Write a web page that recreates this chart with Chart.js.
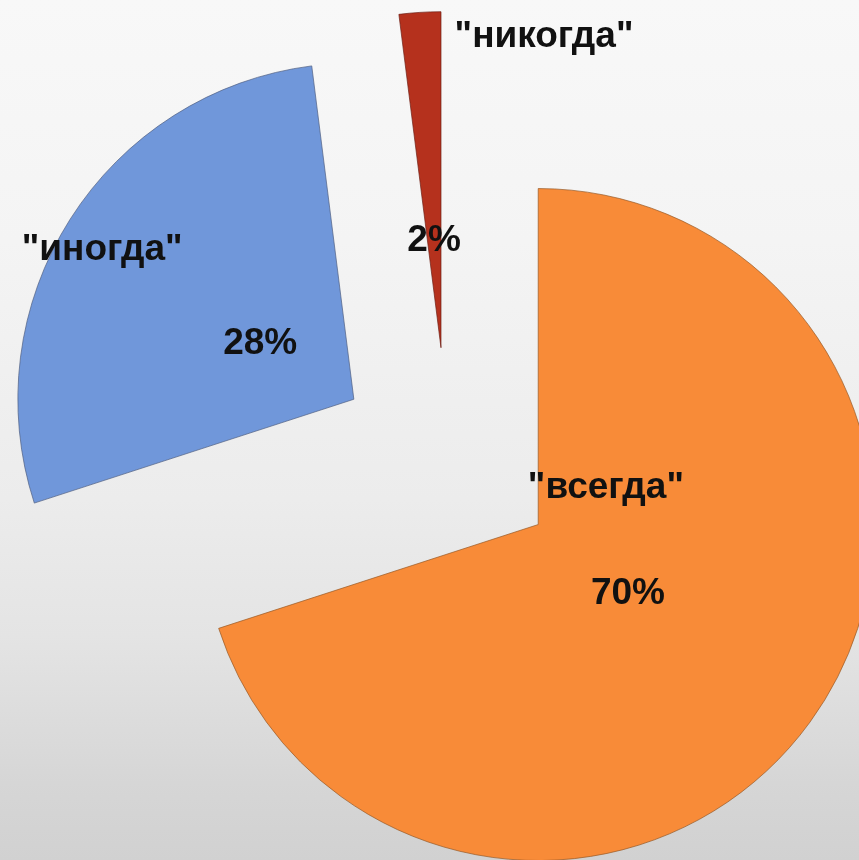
<!DOCTYPE html>
<html>
<head>
<meta charset="utf-8">
<script src="https://cdn.jsdelivr.net/npm/chart.js@4.4.1/dist/chart.umd.min.js"></script>
<style>
  html, body { margin: 0; padding: 0; background: #ffffff; }
  #wrap {
    position: relative; width: 859px; height: 860px;
    background: linear-gradient(to bottom, #f8f8f8 0%, #f4f4f4 28%, #ececec 58%, #e4e4e4 74%, #d6d6d6 91%, #d1d1d1 100%);
  }
</style>
</head>
<body>
<div id="wrap"><canvas id="c"></canvas></div>
<script>
// ---- data ----
const categories = ['"всегда"', '"иногда"', '"никогда"'];
const percentages = [70, 28, 2];
const percentLabels = ['70%', '28%', '2%'];

// ---- styles ----
const sliceColors = ['#F88B38', '#7097DA', '#B5311D'];
const sliceBorders = ['rgba(150,90,40,0.7)', 'rgba(80,95,130,0.7)', 'rgba(110,30,20,0.7)'];
const categoryLabelOffsets = [[-22, -106], [-158, -94], [110, -204]];
const LABEL_DY = 4;
const EXPLODE = 111.5;
const RADIUS = 336;
const LABEL_FONT = 'bold 37px "Liberation Sans", Arial, sans-serif';

const explodePlugin = {
  id: 'explode',
  afterUpdate(chart) {
    const meta = chart.getDatasetMeta(0);
    meta.data.forEach(el => {
      const mid = (el.startAngle + el.endAngle) / 2;
      el.x += Math.cos(mid) * EXPLODE;
      el.y += Math.sin(mid) * EXPLODE;
    });
  }
};

const labelPlugin = {
  id: 'sliceLabels',
  afterDatasetsDraw(chart) {
    const ctx = chart.ctx;
    const meta = chart.getDatasetMeta(0);
    ctx.save();
    ctx.font = LABEL_FONT;
    ctx.fillStyle = '#111111';
    ctx.textAlign = 'center';
    ctx.textBaseline = 'middle';
    meta.data.forEach((el, i) => {
      const mid = (el.startAngle + el.endAngle) / 2;
      const r = el.outerRadius * 0.33;
      const px = el.x + Math.cos(mid) * r;
      const py = el.y + Math.sin(mid) * r + LABEL_DY;
      ctx.fillText(percentLabels[i], px, py);
      const off = categoryLabelOffsets[i];
      ctx.fillText(categories[i], px + off[0], py + off[1]);
    });
    ctx.restore();
  }
};

new Chart(document.getElementById('c'), {
  type: 'pie',
  data: {
    labels: categories,
    datasets: [{
      data: percentages,
      backgroundColor: sliceColors,
      borderColor: sliceBorders,
      borderWidth: 1
    }]
  },
  options: {
    responsive: true,
    maintainAspectRatio: false,
    animation: false,
    events: [],
    radius: RADIUS,
    layout: { padding: { left: 37, right: 0, top: 58, bottom: 0 } },
    plugins: {
      legend: { display: false },
      tooltip: { enabled: false }
    }
  },
  plugins: [explodePlugin, labelPlugin]
});
</script>
</body>
</html>
